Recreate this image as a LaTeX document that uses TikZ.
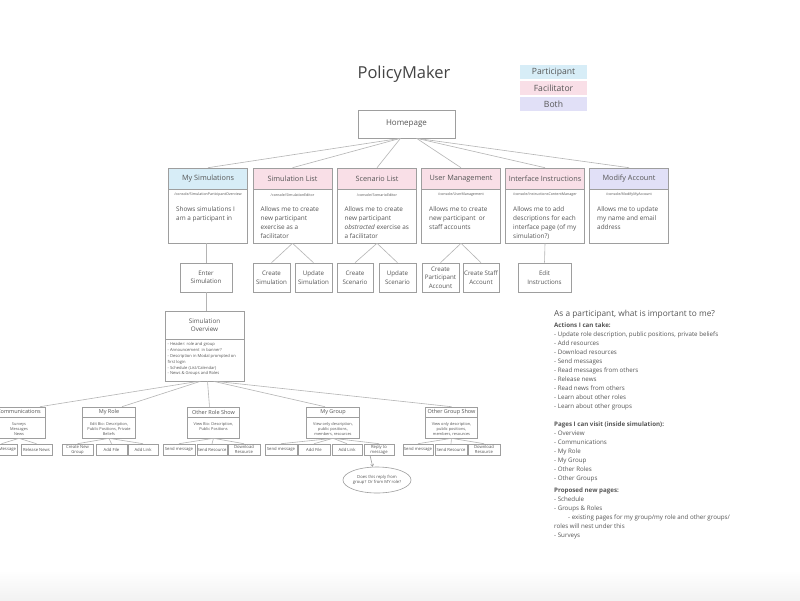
\documentclass[tikz,border=0pt]{standalone}
\usepackage{fontspec}
\setmainfont{Open Sans}
\usetikzlibrary{shapes.geometric,arrows.meta}
\definecolor{txt}{HTML}{555555}
\definecolor{ttl}{HTML}{444444}
\definecolor{bord}{HTML}{9E9E9E}
\definecolor{lnc}{HTML}{B4B4B4}
\definecolor{pcol}{HTML}{D7EDF7}
\definecolor{fcol}{HTML}{F9DFE7}
\definecolor{bcol}{HTML}{E1E0F7}
\newcommand\myfs[2]{\fontsize{#1}{#2}\selectfont}
\begin{document}
\begin{tikzpicture}[x=1pt,y=-1pt,
  box/.style={draw=bord, line width=0.6pt, fill=white, inner sep=0pt, text=txt, align=center},
  conn/.style={draw=lnc, line width=0.6pt},
  colhdr/.style={box, minimum width=79, minimum height=21, font=\myfs{7.3}{9}},
  colbody/.style={box, minimum width=79, minimum height=54},
  urltxt/.style={inner sep=0pt, text=txt, font=\myfs{3.6}{4}},
  btxt/.style={anchor=base west, inner sep=0pt, text=txt, font=\myfs{6.4}{9}},
  subbox/.style={box, minimum height=29, font=\myfs{6.2}{8.6}},
  lvh/.style={box, minimum height=10, minimum width=52.5, font=\myfs{5.5}{6}},
  lvb/.style={box, minimum height=21, minimum width=52.5},
  lvt/.style={anchor=base, inner sep=0pt, text=txt, font=\myfs{3.9}{4.8}},
  lthree/.style={box, minimum height=11, font=\myfs{4.2}{5}},
  legend/.style={inner sep=0pt, minimum width=67, minimum height=14, text=txt, font=\myfs{8.6}{10}},
  rtxt/.style={anchor=base west, inner sep=0pt, text=txt, font=\myfs{6.2}{9}}
]
\useasboundingbox (0,0) rectangle (800,600);
\fill[white] (0,0) rectangle (800,600);
\shade[top color=white, bottom color=black!5] (0,570) rectangle (800,600);

% title and legend
\node[anchor=base, inner sep=0pt, text=ttl, font=\myfs{16.5}{18}] (title) at (404,78) {PolicyMaker};
\node[legend, fill=pcol] (lgp) at (553.5,72) {Participant};
\node[legend, fill=fcol] (lgf) at (553.5,88) {Facilitator};
\node[legend, fill=bcol] (lgb) at (553.5,104) {Both};

% homepage
\node[box, minimum width=97, minimum height=28, font=\myfs{8}{9}] (home) at (406.5,124) {Homepage};

% column headers
\node[colhdr, fill=pcol] (h1) at (208,178.5) {My Simulations};
\node[colhdr, fill=fcol] (h2) at (292.5,178.5) {Simulation List};
\node[colhdr, fill=fcol] (h3) at (377,178.5) {Scenario List};
\node[colhdr, fill=fcol] (h4) at (461,178.5) {User Management};
\node[colhdr, fill=fcol] (h5) at (545,178.5) {Interface Instructions};
\node[colhdr, fill=bcol] (h6) at (629,178.5) {Modify Account};

\node[colbody] (b1) at (208,216) {};
\node[colbody] (b2) at (292.5,216) {};
\node[colbody] (b3) at (377,216) {};
\node[colbody] (b4) at (461,216) {};
\node[colbody] (b5) at (545,216) {};
\node[colbody] (b6) at (629,216) {};

\node[urltxt] (u1) at (208,195) {/console/SimulationParticipantOverview};
\node[urltxt] (u2) at (292.5,195) {/console/SimulationEditor};
\node[urltxt] (u3) at (377,195) {/console/ScenarioEditor};
\node[urltxt] (u4) at (461,195) {/console/UserManagement};
\node[urltxt] (u5) at (545,195) {/console/InstructionsContentManager};
\node[urltxt] (u6) at (629,195) {/console/ModifyMyAccount};

\node[btxt] (t1) at (176,211.5) {\parbox[t]{72pt}{Shows simulations I\\am a participant in}};
\node[btxt] (t2) at (260.5,211.5) {\parbox[t]{72pt}{Allows me to create\\new participant\\exercise as a\\facilitator}};
\node[btxt] (t3) at (344.5,211.5) {\parbox[t]{72pt}{Allows me to create\\new participant\\\textit{obstracted} exercise as\\a facilitator}};
\node[btxt] (t4) at (429,211.5) {\parbox[t]{72pt}{Allows me to create\\new participant~ or\\staff accounts}};
\node[btxt] (t5) at (513,211.5) {\parbox[t]{72pt}{Allows me to add\\descriptions for each\\interface page (of my\\simulation?)}};
\node[btxt] (t6) at (597,211.5) {\parbox[t]{72pt}{Allows me to update\\my name and email\\address}};

% homepage connectors
\draw[conn] ([xshift=-6]home.south) -- (h1.north);
\draw[conn] ([xshift=-6]home.south) -- (h2.north);
\draw[conn] ([xshift=-6]home.south) -- (h3.north);
\draw[conn] ([xshift=10]home.south) -- (h4.north);
\draw[conn] ([xshift=10]home.south) -- (h5.north);
\draw[conn] ([xshift=10]home.south) -- (h6.north);

% sub boxes
\node[subbox, minimum width=52] (enter) at (206,277.5) {Enter\\Simulation};
\node[subbox, minimum width=37] (csim) at (271.5,277.5) {Create\\Simulation};
\node[subbox, minimum width=37] (usim) at (313.5,277.5) {Update\\Simulation};
\node[subbox, minimum width=36] (cscn) at (355,277.5) {Create\\Scenario};
\node[subbox, minimum width=37] (uscn) at (397.5,277.5) {Update\\Scenario};
\node[subbox, minimum width=37] (cpa) at (440.5,277.5) {Create\\Participant\\Account};
\node[subbox, minimum width=36] (csa) at (481,277.5) {Create Staff\\Account};
\node[subbox, minimum width=53] (edit) at (544.5,277.5) {Edit\\Instructions};

\draw[conn] (enter.north |- b1.south) -- (enter.north);
\draw[conn] (b2.south) -- (csim.north);
\draw[conn] (b2.south) -- (usim.north);
\draw[conn] (b3.south) -- (cscn.north);
\draw[conn] (b3.south) -- (uscn.north);
\draw[conn] (b4.south) -- (cpa.north);
\draw[conn] (b4.south) -- (csa.north);
\draw[conn] (b5.south) -- (edit.north);

% simulation overview
\node[box, minimum width=79, minimum height=28, font=\myfs{6.3}{8.6}] (ovh) at (204.5,325) {Simulation\\Overview};
\node[box, minimum width=79, minimum height=42] (ovb) at (204.5,360) {};
\node[anchor=base west, inner sep=0pt, text=txt, font=\myfs{4.1}{5.8}] (ovt) at (167.5,345.8) {\parbox[t]{78pt}{- Header: role and group\\- Announcement~ in banner?\\- Description in Modal prompted on\\first login\\- Schedule (List/Calendar)\\- News \& Groups and Roles}};
\draw[conn] (enter.south) -- (enter.south |- ovh.north);

% level 2
\node[lvh] (cmh) at (19,412) {Communications};
\node[lvb] (cmb) at (19,427.5) {};
\node[lvt] (cmt) at (19,425.6) {\parbox[t]{50pt}{\centering Surveys\\Messages\\News}};
\node[lvh] (mrh) at (109,412) {My Role};
\node[lvb] (mrb) at (109,427.5) {};
\node[lvt] (mrt) at (109,425.6) {\parbox[t]{50pt}{\centering Edit Bio: Description,\\Public Positions, Private\\Beliefs}};
\node[lvh] (orh) at (213.5,412) {Other Role Show};
\node[lvb] (orb) at (213.5,427.5) {};
\node[lvt] (ort) at (213.5,425.6) {\parbox[t]{50pt}{\centering View Bio: Description,\\Public Positions}};
\node[lvh] (mgh) at (333,412) {My Group};
\node[lvb] (mgb) at (333,427.5) {};
\node[lvt] (mgt) at (333,425.6) {\parbox[t]{50pt}{\centering View only description,\\public positions,\\members, resources}};
\node[lvh] (ogh) at (451.5,412) {Other Group Show};
\node[lvb] (ogb) at (451.5,427.5) {};
\node[lvt] (ogt) at (451.5,425.6) {\parbox[t]{50pt}{\centering View only description,\\public positions,\\members, resources}};

\draw[conn] ([xshift=-6]ovb.south) -- ([xshift=21]cmh.north);
\draw[conn] ([xshift=-4]ovb.south) -- ([xshift=13]mrh.north);
\draw[conn] ([xshift=3]ovb.south) -- ([xshift=-4]orh.north);
\draw[conn] ([xshift=9]ovb.south) -- ([xshift=-8]mgh.north);
\draw[conn] ([xshift=11]ovb.south) -- (ogh.north);

% level 3
\node[lthree, minimum width=31, text width=29, align=right] (cm1) at (1.5,449.5) {Message};
\node[lthree, minimum width=31] (cm2) at (36.5,449.5) {Release News};
\node[lthree, minimum width=31] (mr1) at (77.5,449.5) {Create New\\Group};
\node[lthree, minimum width=31] (mr2) at (111.5,449.5) {Add File};
\node[lthree, minimum width=30] (mr3) at (143,449.5) {Add Link};
\node[lthree, minimum width=32] (or1) at (179,449.5) {Send message};
\node[lthree, minimum width=30] (or2) at (212,449.5) {Send Resource};
\node[lthree, minimum width=32] (or3) at (244,449.5) {Download\\Resource};
\node[lthree, minimum width=32] (mg1) at (281,449.5) {Send message};
\node[lthree, minimum width=32] (mg2) at (314,449.5) {Add File};
\node[lthree, minimum width=30] (mg3) at (347,449.5) {Add Link};
\node[lthree, minimum width=30] (mg4) at (379,449.5) {Reply to\\message};
\node[lthree, minimum width=30] (og1) at (418,449.5) {Send message};
\node[lthree, minimum width=32] (og2) at (451,449.5) {Send Resource};
\node[lthree, minimum width=32] (og3) at (484,449.5) {Download\\Resource};

\foreach \p/\c in {cmb/cm1,cmb/cm2,mrb/mr1,mrb/mr2,mrb/mr3,orb/or1,orb/or2,orb/or3,mgb/mg1,mgb/mg2,mgb/mg3,mgb/mg4,ogb/og1,ogb/og2,ogb/og3}
  \draw[conn] (\p.south) -- (\c.north);

% comment ellipse
\node[ellipse, draw=bord, line width=0.6pt, fill=white, inner sep=0pt, minimum width=57, minimum height=26, text=txt, align=center, font=\myfs{4.2}{5.6}] (note) at (377,480) {Does this reply from\\group? Or from MY role?};
\draw[conn, draw=bord, -{Straight Barb[length=2.2pt,width=3pt]}] ([xshift=-9]mg4.south) -- (note.108);

% right text
\node[anchor=base west, inner sep=0pt, text=txt, font=\myfs{8.3}{10}] (qhead) at (554,316) {As a participant, what is important to me?};
\node[rtxt] (blk1) at (554,327.5) {\parbox[t]{220pt}{\textbf{Actions I can take:}\\- Update role description, public positions, private beliefs\\- Add resources\\- Download resources\\- Send messages\\- Read messages from others\\- Release news\\- Read news from others\\- Learn about other roles\\- Learn about other groups}};
\node[rtxt] (blk2) at (554,426.5) {\parbox[t]{220pt}{\textbf{Pages I can visit (inside simulation):}\\- Overview\\- Communications\\- My Role\\- My Group\\- Other Roles\\- Other Groups}};
\node[rtxt] (blk3) at (554,492.5) {\parbox[t]{230pt}{\textbf{Proposed new pages:}\\- Schedule\\- Groups \& Roles\\\hspace*{14pt}- existing pages for my group/my role and other groups/\\roles will nest under this\\- Surveys}};
\end{tikzpicture}
\end{document}
